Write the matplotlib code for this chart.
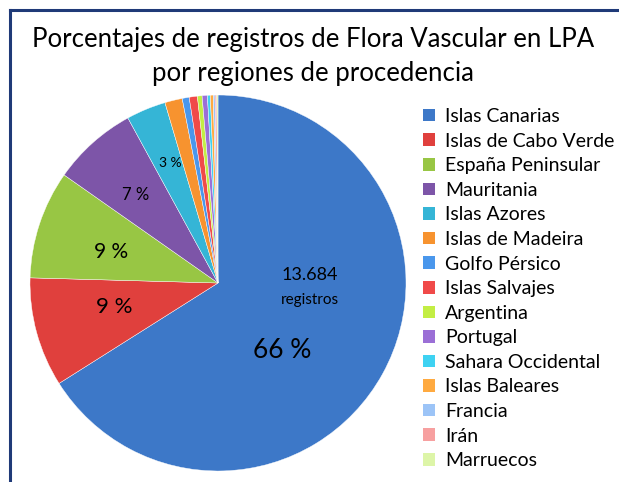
import matplotlib
matplotlib.use("Agg")
import matplotlib.pyplot as plt
from matplotlib.patches import Patch
from matplotlib.lines import Line2D

plt.rcParams['font.family'] = ['Lato', 'DejaVu Sans']

# regions and their share of records (%)
regions = ['Islas Canarias', 'Islas de Cabo Verde', 'España Peninsular', 'Mauritania',
           'Islas Azores', 'Islas de Madeira', 'Golfo Pérsico', 'Islas Salvajes',
           'Argentina', 'Portugal', 'Sahara Occidental', 'Islas Baleares',
           'Francia', 'Irán', 'Marruecos']
shares = [66.0, 9.4, 9.3, 7.3, 3.4, 1.5, 0.6, 0.7, 0.4, 0.45, 0.25, 0.25, 0.15, 0.15, 0.1]
colors = ['#3d78c8', '#e0403d', '#98c644', '#7d55a8', '#35b5d6', '#f7932f', '#4a97ec',
          '#f04a49', '#c3ee44', '#9b6fd6', '#3ed2f2', '#ffaa40', '#9cc4f7', '#f7a0a0',
          '#ddf5a8']

# labels shown inside the pie: (text, x, y, size) in pie-radius units
pie_labels = [('66 %', 0.34, -0.36, 19),
              ('13.684', 0.49, 0.04, 13),
              ('registros', 0.49, -0.09, 11),
              ('9 %', -0.55, -0.13, 16),
              ('9 %', -0.57, 0.165, 15),
              ('7 %', -0.44, 0.47, 12),
              ('3 %', -0.255, 0.64, 10)]

W, H = 619, 482
fig = plt.figure(figsize=(W / 100, H / 100), dpi=100)

# pie axes: centre (218, 283) px, radius 188 px
cx, cy, r = 218, 283, 188
ax = fig.add_axes([(cx - r) / W, (H - cy - r) / H, 2 * r / W, 2 * r / H])
ax.pie(shares, colors=colors, startangle=90, counterclock=False, radius=1,
       wedgeprops=dict(linewidth=0.3, edgecolor='white'))
ax.set_xlim(-1, 1)
ax.set_ylim(-1, 1)
ax.set_aspect('equal')
ax.axis('off')

for txt, x, y, size in pie_labels:
    ax.text(x, y, txt, ha='center', va='center', fontsize=size, color='black')

fig.text(0.505, 1 - 40 / H, 'Porcentajes de registros de Flora Vascular en LPA',
         ha='center', va='center', fontsize=18.5)
fig.text(0.505, 1 - 73 / H, 'por regiones de procedencia',
         ha='center', va='center', fontsize=18.5)

handles = [Patch(facecolor=c, edgecolor='none') for c in colors]
fig.legend(handles, regions, loc='upper left', bbox_to_anchor=(423 / W, 1 - 108 / H),
           frameon=False, fontsize=14, handlelength=0.62, handleheight=0.62,
           handletextpad=0.5, labelspacing=0.39, borderaxespad=0, borderpad=0)

# dark frame on the top and left edges
fig.add_artist(Line2D([9.5 / W, 1], [1 - 9.5 / H, 1 - 9.5 / H], transform=fig.transFigure,
                      color='#1f3a78', linewidth=2.2))
fig.add_artist(Line2D([9.5 / W, 9.5 / W], [0, 1 - 9.5 / H], transform=fig.transFigure,
                      color='#1f3a78', linewidth=2.2))

fig.savefig('out.png', dpi=100)
